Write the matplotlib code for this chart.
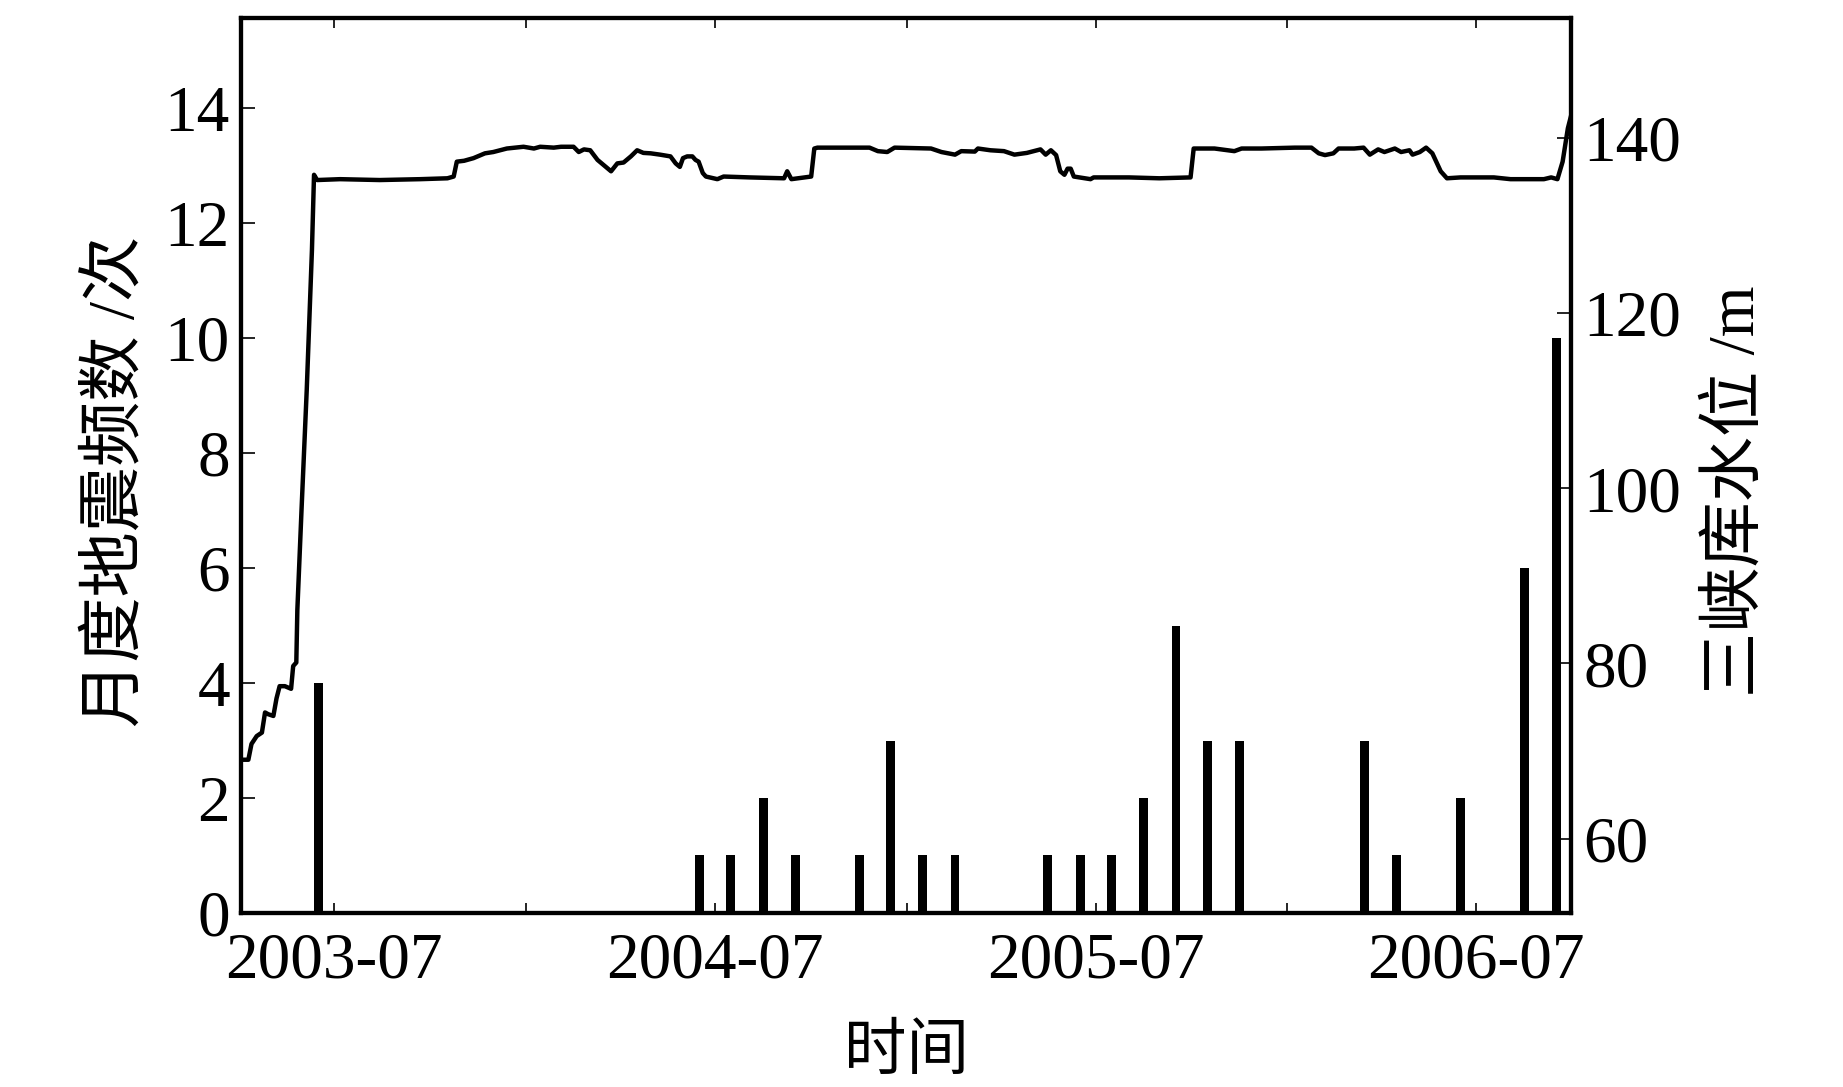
import matplotlib
matplotlib.use("Agg")
import matplotlib.pyplot as plt
import matplotlib.dates as mdates
import pandas as pd

plt.rcParams['font.family'] = ['Liberation Serif', 'Noto Sans CJK SC']

# monthly earthquake counts
quake_months = ['2003-06', '2004-06', '2004-07', '2004-08', '2004-09', '2004-11', '2004-12',
                '2005-01', '2005-02', '2005-05', '2005-06', '2005-07', '2005-08', '2005-09',
                '2005-10', '2005-11', '2006-03', '2006-04', '2006-06', '2006-08', '2006-09']
quake_counts = [4, 1, 1, 2, 1, 1, 3, 1, 1, 1, 1, 1, 2, 5, 3, 3, 3, 1, 2, 6, 10]

# Three Gorges reservoir water level (m)
level_dates = ['2003-04-03', '2003-04-10', '2003-04-13', '2003-04-18', '2003-04-23', '2003-04-26',
               '2003-04-29', '2003-05-04', '2003-05-07', '2003-05-10', '2003-05-15', '2003-05-21',
               '2003-05-23', '2003-05-26', '2003-05-27', '2003-05-31', '2003-06-05', '2003-06-10',
               '2003-06-12', '2003-06-15', '2003-07-07', '2003-08-14', '2003-09-22', '2003-10-18',
               '2003-10-24', '2003-10-27', '2003-11-03', '2003-11-12', '2003-11-23', '2003-12-01',
               '2003-12-14', '2003-12-30', '2004-01-09', '2004-01-15', '2004-01-28', '2004-02-04',
               '2004-02-16', '2004-02-21', '2004-02-26', '2004-03-03', '2004-03-10', '2004-03-16',
               '2004-03-23', '2004-03-29', '2004-04-04', '2004-04-11', '2004-04-17', '2004-04-23',
               '2004-04-30', '2004-05-09', '2004-05-19', '2004-05-24', '2004-05-28', '2004-05-31',
               '2004-06-04', '2004-06-09', '2004-06-12', '2004-06-15', '2004-06-19', '2004-06-22',
               '2004-07-03', '2004-07-09', '2004-08-03', '2004-09-05', '2004-09-08', '2004-09-12',
               '2004-10-01', '2004-10-04', '2004-10-07', '2004-11-07', '2004-11-26', '2004-12-04',
               '2004-12-13', '2004-12-20', '2005-01-24', '2005-02-03', '2005-02-16', '2005-02-22',
               '2005-03-07', '2005-03-10', '2005-03-22', '2005-04-04', '2005-04-14', '2005-04-26',
               '2005-05-09', '2005-05-14', '2005-05-19', '2005-05-24', '2005-05-28', '2005-06-01',
               '2005-06-04', '2005-06-07', '2005-06-10', '2005-06-26', '2005-06-29', '2005-08-02',
               '2005-08-31', '2005-09-30', '2005-10-03', '2005-10-23', '2005-11-05', '2005-11-11',
               '2005-11-18', '2005-12-07', '2006-01-08', '2006-01-24', '2006-01-31', '2006-02-06',
               '2006-02-14', '2006-02-19', '2006-03-06', '2006-03-15', '2006-03-21', '2006-03-29',
               '2006-04-04', '2006-04-14', '2006-04-20', '2006-04-28', '2006-05-01', '2006-05-08',
               '2006-05-14', '2006-05-20', '2006-05-28', '2006-06-03', '2006-06-16', '2006-07-02',
               '2006-07-18', '2006-08-03', '2006-08-19', '2006-09-04', '2006-09-11', '2006-09-17',
               '2006-09-22', '2006-09-27', '2006-09-30']
level_m = [69.0, 69.0, 70.8, 71.7, 72.1, 74.4,
           74.2, 74.0, 76.0, 77.4, 77.4, 77.1,
           79.7, 80.1, 86.1, 97.5, 111.2, 127.2,
           135.8, 135.2, 135.3, 135.2, 135.3, 135.4,
           135.6, 137.3, 137.4, 137.7, 138.25, 138.4,
           138.8, 139.0, 138.8, 139.0, 138.9, 139.0,
           139.0, 138.4, 138.7, 138.6, 137.5, 136.9,
           136.2, 137.1, 137.2, 137.9, 138.6, 138.3,
           138.25, 138.1, 137.9, 137.1, 136.7, 137.7,
           137.9, 137.9, 137.5, 137.3, 136.0, 135.6,
           135.3, 135.6, 135.5, 135.4, 136.2, 135.3,
           135.6, 138.8, 138.9, 138.9, 138.9, 138.5,
           138.4, 138.9, 138.8, 138.4, 138.1, 138.5,
           138.45, 138.8, 138.6, 138.5, 138.1, 138.3,
           138.7, 138.1, 138.6, 138.05, 136.2, 135.8,
           136.5, 136.5, 135.6, 135.3, 135.5, 135.5,
           135.4, 135.5, 138.8, 138.8, 138.6, 138.5,
           138.8, 138.8, 138.9, 138.9, 138.25, 138.05,
           138.25, 138.8, 138.8, 138.9, 138.1, 138.7,
           138.4, 138.8, 138.4, 138.6, 138.1, 138.4,
           138.9, 138.25, 136.2, 135.4, 135.5, 135.5,
           135.5, 135.3, 135.3, 135.3, 135.5, 135.3,
           137.3, 141.1, 142.5]

x_ticks = ['2003-07-01', '2004-01-01', '2004-07-01', '2005-01-01', '2005-07-01', '2006-01-01', '2006-07-01']
x_ticklabels = ['2003-07', '', '2004-07', '', '2005-07', '', '2006-07']

bar_x = mdates.date2num(pd.to_datetime([m + '-16' for m in quake_months]))
line_x = mdates.date2num(pd.to_datetime(level_dates))

fig, ax = plt.subplots(figsize=(18.43, 10.87), dpi=100)
fig.subplots_adjust(left=0.1308, right=0.8524, bottom=0.1601, top=0.9834)

ax.bar(bar_x, quake_counts, width=8.5, color='black')
ax.set_xlim(mdates.date2num(pd.Timestamp('2003-04-03')), mdates.date2num(pd.Timestamp('2006-09-30')))
ax.set_ylim(0, 15.57)
ax.set_yticks(range(0, 15, 2))
ax.set_xticks(mdates.date2num(pd.to_datetime(x_ticks)))
ax.set_xticklabels(x_ticklabels)
ax.tick_params(axis='y', direction='in', left=True, right=True, length=10, width=1.2,
               labelsize=47, pad=8)
ax.tick_params(axis='x', direction='in', top=True, bottom=True, length=7, width=1.2,
               labelsize=47, pad=14)
ax.set_ylabel('月度地震频数 /次', fontsize=47)
ax.yaxis.set_label_coords(-0.0707, 0.482)
ax.set_xlabel('时间', fontsize=45, labelpad=24)

ax2 = ax.twinx()
ax2.plot(line_x, level_m, color='black', lw=3.2)
ax2.set_ylim(51.5, 153.7)
ax2.set_yticks(range(60, 141, 20))
ax2.tick_params(axis='y', direction='in', right=True, left=False, length=10, width=1.2,
                labelsize=47, pad=9)
ax2.set_ylabel('三峡库水位 /m', fontsize=47)
ax2.yaxis.set_label_coords(1.102, 0.471)

for a in (ax, ax2):
    for s in a.spines.values():
        s.set_linewidth(3)

fig.savefig('out.png', dpi=100)
